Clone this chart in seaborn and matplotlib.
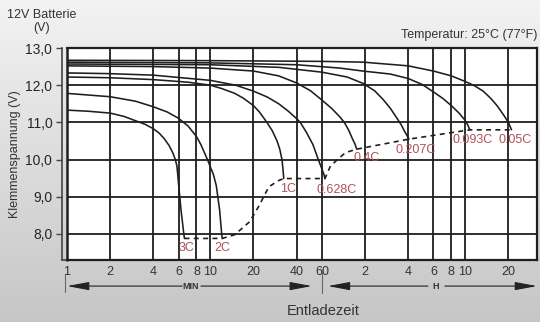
import numpy as np
import pandas as pd
import seaborn as sns
import matplotlib.pyplot as plt
from matplotlib.colors import LinearSegmentedColormap
from matplotlib.ticker import NullLocator

# discharge curves: time in minutes, terminal voltage in V
rates = ['3C', '2C', '1C', '0.628C', '0.4C', '0.207C', '0.093C', '0.05C']

t_3c = [1, 1.4, 2, 2.5, 2.93, 3.5, 4, 4.4, 4.77, 5.15, 5.46, 5.7, 5.85, 6.0, 6.24, 6.53, 6.6]
v_3c = [11.33, 11.3, 11.25, 11.16, 11.06, 10.95, 10.83, 10.71, 10.56, 10.38, 10.19, 10.0, 9.82,
        9.35, 8.65, 8.0, 7.88]

t_2c = [1, 2, 3, 4, 5, 6, 7, 8, 8.6, 9.1, 9.6, 10, 10.5, 11.0, 11.6, 12.0, 12.1]
v_2c = [11.78, 11.69, 11.57, 11.42, 11.28, 11.11, 10.9, 10.62, 10.4, 10.18, 9.98, 9.8, 9.6,
        9.3, 8.65, 8.0, 7.88]

t_1c = [1, 2, 4, 7, 10, 12, 14.8, 17, 20, 22, 24.8, 27, 29.2, 30.5, 31.6, 32.1, 32.5]
v_1c = [12.22, 12.2, 12.15, 12.08, 12.0, 11.91, 11.78, 11.65, 11.45, 11.28, 11.0, 10.78, 10.5,
        10.28, 10.0, 9.75, 9.49]

t_0628 = [1, 2, 4, 10, 15, 20, 25, 30, 35, 40, 42.4, 47, 52, 56.4, 60, 62, 63]
v_0628 = [12.33, 12.31, 12.27, 12.13, 12.0, 11.84, 11.68, 11.5, 11.3, 11.1, 11.0, 10.72, 10.4,
          10.02, 9.75, 9.6, 9.49]

t_04 = [1, 4, 10, 20, 30, 40, 50, 60, 70, 80, 86, 92, 98, 102, 105]
v_04 = [12.52, 12.5, 12.46, 12.38, 12.25, 12.06, 11.85, 11.6, 11.38, 11.15, 11.0, 10.8, 10.56,
        10.42, 10.28]

t_0207 = [1, 10, 30, 60, 90, 116, 140, 160, 180, 199, 215, 227, 236, 243]
v_0207 = [12.57, 12.55, 12.48, 12.35, 12.22, 12.05, 11.85, 11.62, 11.38, 11.13, 10.93, 10.75,
          10.64, 10.55]

t_0093 = [1, 10, 40, 80, 116, 180, 240, 300, 360, 420, 480, 540, 586, 620, 646]
v_0093 = [12.62, 12.6, 12.55, 12.46, 12.38, 12.3, 12.18, 12.02, 11.82, 11.64, 11.45, 11.26,
          11.1, 10.96, 10.8]

t_005 = [1, 10, 60, 116, 240, 360, 480, 600, 700, 800, 902, 1000, 1120, 1200, 1262]
v_005 = [12.67, 12.66, 12.64, 12.62, 12.52, 12.38, 12.25, 12.1, 11.98, 11.84, 11.65, 11.45,
         11.18, 11.0, 10.8]

# end-of-discharge line (dashed)
t_end = [6.6, 12.1, 14.8, 18.8, 21.8, 25.6, 30.1, 32.5, 63, 68.9, 79.7, 87.9, 105, 243, 646, 1262]
v_end = [7.88, 7.88, 7.98, 8.33, 8.75, 9.27, 9.44, 9.49, 9.49, 9.83, 10.05, 10.19, 10.28, 10.55,
         10.8, 10.8]

x_ticks = [1, 2, 4, 6, 8, 10, 20, 40, 60, 120, 240, 360, 480, 600, 1200]
x_labels = ['1', '2', '4', '6', '8', '10', '20', '40', '60', '2', '4', '6', '8', '10', '20']
y_ticks = [8, 9, 10, 11, 12, 13]
y_labels = ['8,0', '9,0', '10,0', '11,0', '12,0', '13,0']

curves = [(t_3c, v_3c), (t_2c, v_2c), (t_1c, v_1c), (t_0628, v_0628),
          (t_04, v_04), (t_0207, v_0207), (t_0093, v_0093), (t_005, v_005)]
rows = []
for rate, (ts, vs) in zip(rates, curves):
    for t, v in zip(ts, vs):
        rows.append((rate, t, v))
df = pd.DataFrame(rows, columns=['rate', 'minutes', 'volts'])
df_end = pd.DataFrame({'minutes': t_end, 'volts': v_end})

sns.set_style('white')
plt.rcParams['font.family'] = ['Liberation Sans', 'DejaVu Sans']
txt = '#333333'
red = '#b0505a'

fig = plt.figure(figsize=(5.4, 3.22), dpi=100)

# grey gradient background
bg = fig.add_axes([0, 0, 1, 1], zorder=-5)
grad = np.linspace(0, 1, 256).reshape(-1, 1)
bg.imshow(grad, aspect='auto', cmap=LinearSegmentedColormap.from_list('g', ['#f3f3f3', '#c6c6c6']))
bg.axis('off')

ax = fig.add_axes([67 / 540, 1 - 260 / 322, 470 / 540, 212 / 322])
ax.set_facecolor('white')

sns.lineplot(data=df, x='minutes', y='volts', units='rate', estimator=None, sort=False,
             color='#1e1e1e', lw=1.15, ax=ax)
sns.lineplot(data=df_end, x='minutes', y='volts', sort=False, color='#1e1e1e', lw=1.2,
             ax=ax, dashes=False, linestyle=(0, (3, 2.6)))

ax.set_xscale('log')
ax.set_xlim(1, 1900)
ax.set_ylim(7.3, 13.0)
ax.set_xticks(x_ticks)
ax.set_xticklabels(x_labels, fontsize=9, color=txt)
ax.xaxis.set_minor_locator(NullLocator())
ax.set_yticks(y_ticks)
ax.set_yticklabels(y_labels, fontsize=9, color=txt)
ax.tick_params(axis='x', length=0, pad=4)
ax.tick_params(axis='y', length=4, width=1, color='#444444', pad=3, direction='out', left=True)
ax.grid(True, color='#1e1e1e', lw=1.3)
ax.axvline(1, color='#1e1e1e', lw=1.8, clip_on=False)
for s in ['top', 'right', 'bottom']:
    ax.spines[s].set_color('#1e1e1e')
    ax.spines[s].set_linewidth(1.6)
ax.spines['left'].set_position(('outward', 3.6))
ax.spines['left'].set_color('#444444')
ax.spines['left'].set_linewidth(1.2)
ax.plot([-5 / 470, 0], [0, 0], transform=ax.transAxes, clip_on=False, color='#444444', lw=1.2)

ax.set_xlabel('')
ax.set_ylabel('Klemmenspannung (V)', fontsize=9, color=txt)
ax.yaxis.set_label_coords((21 - 67) / 470, 0.5)

# rate labels at the end of each curve (offsets in px -> pt)
offsets = [(2, -10), (0, -10), (4, -10), (12, -11), (10, -9), (7, -11), (3, -10), (4, -10)]
for rate, (ts, vs), (dx, dy) in zip(rates, curves, offsets):
    ax.annotate(rate, (ts[-1], vs[-1]), xytext=(dx * 0.72, dy * 0.72), textcoords='offset points',
                ha='center', va='center', fontsize=9, color=red)

# MIN / H arrows under the axis
ya = -0.123
gray = '#666666'
ap = dict(arrowstyle='-|>,head_length=1.5,head_width=0.28', mutation_scale=9,
          color='#222222', lw=0.8, shrinkA=0, shrinkB=0)
ax.annotate('', xy=(0.0, ya), xytext=(0.245, ya), xycoords='axes fraction', arrowprops=ap)
ax.annotate('', xy=(0.521, ya), xytext=(0.285, ya), xycoords='axes fraction', arrowprops=ap)
ax.annotate('', xy=(0.555, ya), xytext=(0.768, ya), xycoords='axes fraction', arrowprops=ap)
ax.annotate('', xy=(1.0, ya), xytext=(0.804, ya), xycoords='axes fraction', arrowprops=ap)
ax.text(0.264, ya, 'MIN', transform=ax.transAxes, ha='center', va='center', fontsize=6.5,
        fontweight='bold', color='#333333')
ax.text(0.785, ya, 'H', transform=ax.transAxes, ha='center', va='center', fontsize=6.5,
        fontweight='bold', color='#333333')
ax.plot([-0.004, -0.004], [-0.071, -0.151], transform=ax.transAxes, clip_on=False, color=gray, lw=0.8)
ax.plot([0.543, 0.543], [-0.047, -0.156], transform=ax.transAxes, clip_on=False, color=gray, lw=0.8)

fig.text(42 / 540, 1 - 15 / 322, '12V Batterie', ha='center', va='center', fontsize=9, color=txt)
fig.text(42 / 540, 1 - 28 / 322, '(V)', ha='center', va='center', fontsize=9, color=txt)
fig.text(537 / 540, 1 - 35 / 322, 'Temperatur: 25°C (77°F)', ha='right', va='center', fontsize=9, color=txt)
fig.text(323 / 540, 1 - 311 / 322, 'Entladezeit', ha='center', va='center', fontsize=10.5, color=txt)

fig.savefig('out.png', dpi=100)
